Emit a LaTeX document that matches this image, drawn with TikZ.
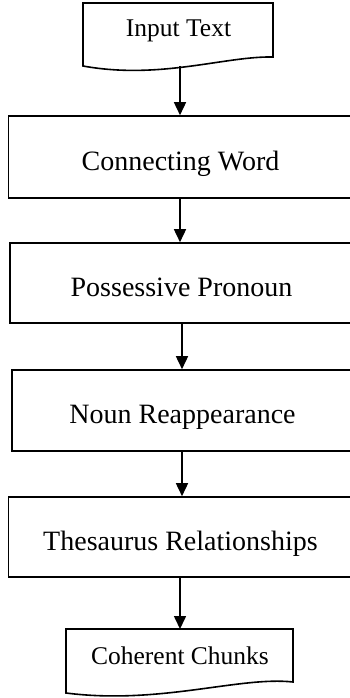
\documentclass[tikz,border=0pt]{standalone}
\usepackage{fontspec}
\setmainfont{Liberation Serif}
\usetikzlibrary{arrows.meta,calc}
\tikzset{
  box/.style={draw, line width=1.6pt, minimum width=344pt, inner sep=0pt,
    font=\fontsize{28}{30}\selectfont, text height=28pt, text depth=2pt},
  doc/.style={line width=1.6pt},
  doctext/.style={inner sep=0pt, anchor=base, font=\fontsize{25.5}{28}\selectfont},
  arr/.style={line width=1.6pt, -{Triangle[width=12pt,length=13pt]}}
}
\begin{document}
\begin{tikzpicture}[x=1pt,y=-1pt]
\useasboundingbox (0,0) rectangle (350,698);
% input document shape
\draw[doc] (83,3) -- (273,3) -- (273,57) .. controls (225,56) and (160,80) .. (83,66) -- cycle;
\node[doctext] (in) at (178.5,37) {Input Text};
\coordinate (inb) at (180,66);
% process boxes
\node[box, minimum height=82pt] (con) at (180.5,157) {Connecting Word};
\node[box, minimum height=80pt, minimum width=343pt] (pos) at (181.5,283) {Possessive Pronoun};
\node[box, minimum height=81pt, minimum width=341pt] (nou) at (182.5,410.5) {Noun Reappearance};
\node[box, minimum height=80pt] (the) at (180.5,537) {Thesaurus Relationships};
% output document shape
\draw[doc] (66,629) -- (293,629) -- (293,682) .. controls (240,676) and (160,705) .. (66,693) -- cycle;
\node[doctext] (coh) at (180,664) {Coherent Chunks};
\coordinate (coht) at (180,629);
% connectors
\draw[arr] (inb) -- (inb |- con.north);
\draw[arr] (con.south -| 180,0) -- (pos.north -| 180,0);
\draw[arr] (pos.south -| 182,0) -- (nou.north -| 182,0);
\draw[arr] (nou.south -| 182,0) -- (the.north -| 182,0);
\draw[arr] (the.south -| coht) -- (coht);
\end{tikzpicture}
\end{document}
